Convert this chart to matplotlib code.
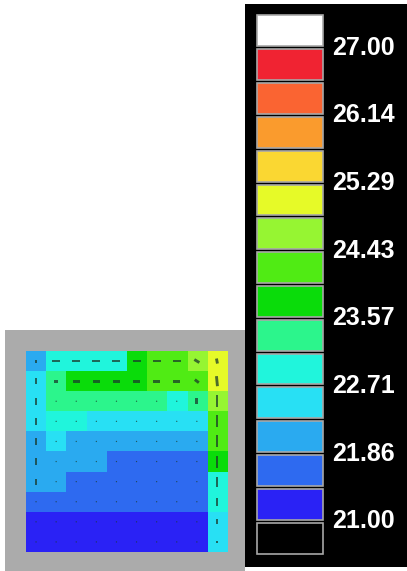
import numpy as np
import matplotlib
matplotlib.use("Agg")
import matplotlib.pyplot as plt
from matplotlib.colors import ListedColormap, BoundaryNorm

# colour scale: 14 bands between 21 and 27, black below, white above
t_min = 21.0
t_max = 27.0
n_bands = 14
band_colors = ["#2a22f5", "#2e6af0", "#2aaaf0", "#28e0f4", "#20f5dc", "#2cf58c", "#0adc0a",
               "#50eb14", "#96f532", "#e6fa28", "#fad732", "#fa9b2d", "#fa6432", "#f02332"]
under_color = "#000000"
over_color = "#ffffff"

# temperature of each cell (10 x 10, top row first)
temps = [
    [22.1, 22.9, 22.9, 22.9, 22.9, 23.8, 24.2, 24.2, 24.6, 25.1],
    [22.5, 23.4, 23.8, 23.8, 23.8, 23.8, 24.2, 24.2, 24.2, 25.1],
    [22.5, 23.4, 23.4, 23.4, 23.4, 23.4, 23.4, 22.9, 23.4, 24.6],
    [22.5, 22.9, 22.9, 22.5, 22.5, 22.5, 22.5, 22.5, 22.5, 24.2],
    [22.1, 22.5, 22.1, 22.1, 22.1, 22.1, 22.1, 22.1, 22.1, 24.2],
    [22.1, 22.1, 22.1, 22.1, 21.6, 21.6, 21.6, 21.6, 21.6, 23.8],
    [22.1, 22.1, 21.6, 21.6, 21.6, 21.6, 21.6, 21.6, 21.6, 22.9],
    [21.6, 21.6, 21.6, 21.6, 21.6, 21.6, 21.6, 21.6, 21.6, 22.9],
    [21.2, 21.2, 21.2, 21.2, 21.2, 21.2, 21.2, 21.2, 21.2, 22.5],
    [21.2, 21.2, 21.2, 21.2, 21.2, 21.2, 21.2, 21.2, 21.2, 22.5],
]

# flow vectors drawn over the cells (u across, v down)
u = [
    [0.00, 0.40, 0.40, 0.40, 0.40, 0.40, 0.40, 0.40, 0.25, 0.05],
    [0.00, 0.20, 0.35, 0.35, 0.35, 0.35, 0.35, 0.35, 0.20, 0.05],
    [0.00, 0.05, 0.00, 0.00, 0.00, 0.00, 0.00, 0.00, 0.00, 0.00],
    [0.00, 0.00, 0.00, 0.00, 0.04, 0.04, 0.04, 0.04, 0.04, 0.00],
    [0.00, 0.00, 0.00, 0.00, 0.04, 0.04, 0.04, 0.04, 0.00, 0.00],
    [0.00, 0.04, 0.04, 0.04, 0.03, 0.03, 0.03, 0.03, 0.00, 0.00],
    [0.00, 0.04, 0.03, 0.03, 0.03, 0.03, 0.03, 0.03, 0.00, 0.00],
    [0.00, 0.03, 0.03, 0.03, 0.03, 0.03, 0.03, 0.03, 0.00, 0.00],
    [0.00, 0.00, 0.00, 0.00, 0.00, 0.00, 0.00, 0.00, 0.00, 0.00],
    [0.00, 0.00, 0.00, 0.00, 0.00, 0.00, 0.00, 0.00, 0.00, 0.00],
]
v = [
    [0.15, 0.00, 0.00, 0.00, 0.00, 0.00, 0.00, 0.00, 0.15, 0.25],
    [0.30, 0.00, 0.00, 0.00, 0.00, 0.00, 0.00, 0.00, 0.15, 0.50],
    [0.35, 0.05, 0.00, 0.00, 0.00, 0.00, 0.00, 0.00, 0.30, 0.60],
    [0.35, 0.00, 0.00, 0.00, 0.05, 0.05, 0.05, 0.05, 0.05, 0.60],
    [0.35, 0.00, 0.00, 0.00, 0.05, 0.05, 0.05, 0.05, 0.00, 0.60],
    [0.35, 0.00, 0.00, 0.00, 0.00, 0.00, 0.00, 0.00, 0.00, 0.60],
    [0.30, 0.00, 0.00, 0.00, 0.00, 0.00, 0.00, 0.00, 0.00, 0.50],
    [0.00, 0.00, 0.00, 0.00, 0.00, 0.00, 0.00, 0.00, 0.00, 0.40],
    [0.00, 0.00, 0.00, 0.00, 0.00, 0.00, 0.00, 0.00, 0.00, 0.25],
    [0.00, 0.00, 0.00, 0.00, 0.00, 0.00, 0.00, 0.00, 0.00, 0.10],
]

levels = np.linspace(t_min, t_max, n_bands + 1)
step = levels[1] - levels[0]

cmap = ListedColormap(band_colors)
cmap.set_under(under_color)
cmap.set_over(over_color)
norm = BoundaryNorm(levels, cmap.N)

W, H = 407, 571
fig = plt.figure(figsize=(W / 100, H / 100), dpi=100)
fig.patch.set_facecolor("white")

def px_axes(x0, y0, x1, y1):
    # axes placed by pixel box (top-left origin)
    return fig.add_axes([x0 / W, 1 - y1 / H, (x1 - x0) / W, (y1 - y0) / H])

# --- heat map with grey frame ---
ax = px_axes(5, 330, 245, 571)
ax.set_facecolor("#ababab")
data = np.array(temps)
ax.imshow(data, cmap=cmap, norm=norm, extent=(0, 10, 10, 0), interpolation="nearest", aspect="auto")
ax.set_xlim((5 - 26) / 20.1, (245 - 26) / 20.1)
ax.set_ylim((571 - 351) / 20.1, (330 - 351) / 20.1)
xx, yy = np.meshgrid(np.arange(10) + 0.5, np.arange(10) + 0.5)
ax.quiver(xx, yy, np.array(u), np.array(v), angles="xy", scale_units="xy", scale=1,
          pivot="middle", color="#1b3a2c", alpha=0.75, width=0.012,
          headwidth=1, headlength=0, headaxislength=0, minlength=0.5)
ax.set_xticks([])
ax.set_yticks([])
for s in ax.spines.values():
    s.set_visible(False)

# --- legend panel ---
cax = px_axes(245, 4, 407, 567)
cax.set_facecolor("black")
px_per_unit = 33.9 / step
top_val = t_max + step + (14 - 4) / px_per_unit
bot_val = t_min - step - (567 - 555) / px_per_unit
cax.set_ylim(bot_val, top_val)
cax.set_xlim(245, 407)

gap = 3 / px_per_unit
bins_lo = np.concatenate([[t_min - step], levels[:-1], [t_max]])
bins_col = [under_color] + band_colors + [over_color]
cax.bar(np.full(len(bins_lo), 290.0), step - gap, bottom=bins_lo + gap / 2, width=66,
        color=bins_col, edgecolor="#a8a8a8", linewidth=1.2)

for lev in levels[::2]:
    cax.text(332, lev, f"{lev:.2f}", color="white", fontsize=18, fontweight="bold",
             family="Liberation Sans", va="center", ha="left")

cax.set_xticks([])
cax.set_yticks([])
for s in cax.spines.values():
    s.set_visible(False)

fig.savefig("out.png", dpi=100, facecolor="white")
